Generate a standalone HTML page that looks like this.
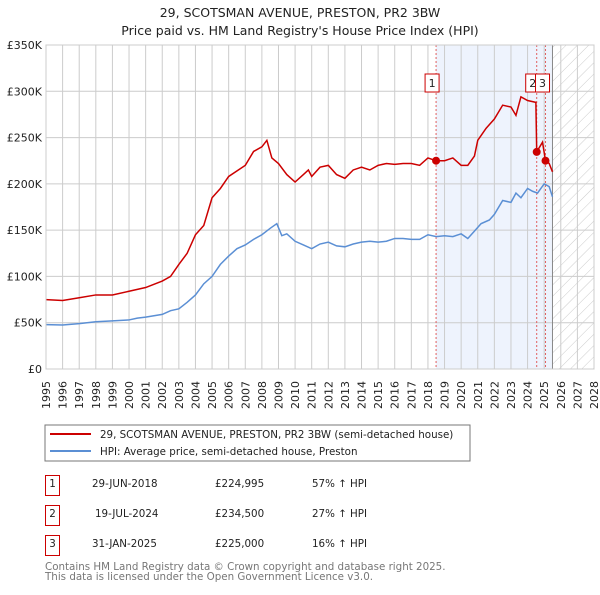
<!DOCTYPE html>
<html><head><meta charset="utf-8"><style>
body{margin:0;background:#fff;font-family:"Liberation Sans","DejaVu Sans",sans-serif;}
svg text{font-family:"DejaVu Sans","Liberation Sans",sans-serif;}
</style></head><body>
<svg id="chart" width="600" height="590" xmlns="http://www.w3.org/2000/svg">
<defs><pattern id="hatch" width="8" height="8" patternUnits="userSpaceOnUse" patternTransform="rotate(45)"><line x1="0" y1="0" x2="0" y2="8" stroke="#ccc" stroke-width="1"/></pattern></defs>
<text x="300" y="17" text-anchor="middle" font-size="12.5" fill="#222">29, SCOTSMAN AVENUE, PRESTON, PR2 3BW</text>
<text x="300" y="35" text-anchor="middle" font-size="12.5" fill="#222">Price paid vs. HM Land Registry's House Price Index (HPI)</text>
<g id="plot"></g>
<g>
<rect x="45" y="425" width="425" height="36" fill="#fff" stroke="#777"/>
<line x1="50" y1="434" x2="91" y2="434" stroke="#cc0000" stroke-width="2"/>
<text x="100" y="438" font-size="10.3" fill="#222">29, SCOTSMAN AVENUE, PRESTON, PR2 3BW (semi-detached house)</text>
<line x1="50" y1="451" x2="91" y2="451" stroke="#5b8fd4" stroke-width="2"/>
<text x="100" y="455" font-size="10.3" fill="#222">HPI: Average price, semi-detached house, Preston</text>
</g>
<g font-size="10.3" fill="#222">
<rect x="45.5" y="475.5" width="14" height="20" fill="#fff" stroke="#cc0000"/><text x="52.5" y="487" text-anchor="middle">1</text>
<text x="92" y="487">29-JUN-2018</text><text x="215" y="487">£224,995</text><text x="312" y="487">57% ↑ HPI</text>
<rect x="45.5" y="505.5" width="14" height="20" fill="#fff" stroke="#cc0000"/><text x="52.5" y="517" text-anchor="middle">2</text>
<text x="95" y="517">19-JUL-2024</text><text x="215" y="517">£234,500</text><text x="312" y="517">27% ↑ HPI</text>
<rect x="45.5" y="535.5" width="14" height="20" fill="#fff" stroke="#cc0000"/><text x="52.5" y="547" text-anchor="middle">3</text>
<text x="92" y="547">31-JAN-2025</text><text x="215" y="547">£225,000</text><text x="312" y="547">16% ↑ HPI</text>
</g>
<text x="45" y="570" font-size="10.3" fill="#777">Contains HM Land Registry data © Crown copyright and database right 2025.</text>
<text x="45" y="580" font-size="10.3" fill="#777">This data is licensed under the Open Government Licence v3.0.</text>
</svg>
<script>
const yTicks=[0,50,100,150,200,250,300,350];
const yTickLabels=["£0","£50K","£100K","£150K","£200K","£250K","£300K","£350K"];
const years=[1995,1996,1997,1998,1999,2000,2001,2002,2003,2004,2005,2006,2007,2008,2009,2010,2011,2012,2013,2014,2015,2016,2017,2018,2019,2020,2021,2022,2023,2024,2025,2026,2027,2028];
const hpiT=[1995,1996,1997,1998,1999,2000,2000.5,2001,2002,2002.5,2003,2003.5,2004,2004.5,2005,2005.5,2006,2006.5,2007,2007.5,2008,2008.5,2008.9,2009.2,2009.5,2010,2010.5,2011,2011.5,2012,2012.5,2013,2013.5,2014,2014.5,2015,2015.5,2016,2016.5,2017,2017.5,2018,2018.5,2019,2019.5,2020,2020.4,2020.8,2021.2,2021.7,2022,2022.5,2023,2023.3,2023.6,2024,2024.3,2024.6,2025,2025.3,2025.5];
const hpiV=[48,47.5,49,51,52,53,55,56,59,63,65,72,80,92,100,113,122,130,134,140,145,152,157,144,146,138,134,130,135,137,133,132,135,137,138,137,138,141,141,140,140,145,143,144,143,146,141,149,157,161,167,182,180,190,185,195,192,190,200,197,186];
const priceT=[1995,1996,1997,1998,1999,2000,2001,2002,2002.5,2003,2003.5,2004,2004.5,2005,2005.5,2006,2007,2007.5,2008,2008.3,2008.6,2009,2009.5,2010,2010.5,2010.8,2011,2011.5,2012,2012.5,2013,2013.5,2014,2014.5,2015,2015.5,2016,2016.5,2017,2017.5,2018,2018.49,2019,2019.5,2020,2020.4,2020.8,2021,2021.5,2022,2022.5,2023,2023.3,2023.6,2024,2024.5,2024.55,2024.9,2025.08,2025.3,2025.5];
const priceV=[75,74,77,80,80,84,88,95,100,113,125,145,155,185,195,208,220,235,240,247,228,222,210,202,210,215,208,218,220,210,206,215,218,215,220,222,221,222,222,220,228,225,225,228,220,220,230,247,260,270,285,283,274,294,290,288,234.5,245,225,222,213];
const saleT=[2018.49,2024.55,2025.08];
const saleV=[224.995,234.5,225];
const saleLabels=["1","2","3"];
const X0=46,X1=594,Y0=369,Y1=45;
const xs=t=>X0+(t-1995)/(2028-1995)*(X1-X0);
const ys=v=>Y0-v/350*(Y0-Y1);
const g=document.getElementById('plot');
const NS='http://www.w3.org/2000/svg';
function mk(tag,attrs){const e=document.createElementNS(NS,tag);for(const k in attrs)e.setAttribute(k,attrs[k]);g.appendChild(e);return e;}
let r=mk('rect',{x:xs(saleT[0]),y:Y1,width:xs(2025.5)-xs(saleT[0]),height:Y0-Y1,fill:'#eef3fd'});


r=mk('rect',{x:xs(2025.5),y:Y1,width:X1-xs(2025.5),height:Y0-Y1,fill:'url(#hatch)'});


years.forEach(y=>{const x=xs(y);
const l=mk('line',{x1:x,y1:Y1,x2:x,y2:Y0,stroke:'#ccc','stroke-width':1});


const t=mk('text',{x:0,y:0,'font-size':11,fill:'#222','text-anchor':'end',transform:'translate('+(x+4)+',381) rotate(-90)'});t.textContent=y;

});
yTicks.forEach((v,i)=>{const y=ys(v);
const l=mk('line',{x1:X0,y1:y,x2:X1,y2:y,stroke:'#ccc','stroke-width':1});


const t=mk('text',{x:X0-4,y:y+4,'font-size':11,fill:'#222','text-anchor':'end'});t.textContent=yTickLabels[i];

});
const hl=mk('line',{x1:xs(2025.5),y1:Y1,x2:xs(2025.5),y2:Y0,stroke:'#888','stroke-width':1});


saleT.forEach(t=>{const l=mk('line',{x1:xs(t),y1:Y1,x2:xs(t),y2:Y0,stroke:'#e06060','stroke-width':1,'stroke-dasharray':'2,2'});

});
const p1=mk('polyline',{points:hpiT.map((t,i)=>xs(t)+','+ys(hpiV[i])).join(' '),fill:'none',stroke:'#5b8fd4','stroke-width':1.5});


const p2=mk('polyline',{points:priceT.map((t,i)=>xs(t)+','+ys(priceV[i])).join(' '),fill:'none',stroke:'#cc0000','stroke-width':1.5});


saleT.forEach((t,i)=>{const c=mk('circle',{cx:xs(t),cy:ys(saleV[i]),r:4,fill:'#cc0000'});

});
const lx=[xs(saleT[0])-4,xs(saleT[1])-4,xs(saleT[2])-3];
saleT.forEach((t,i)=>{const b=mk('rect',{x:lx[i]-7,y:74,width:14,height:18,fill:'#fff',stroke:'#cc0000'});


const tx=mk('text',{x:lx[i],y:87,'font-size':11,fill:'#222','text-anchor':'middle'});tx.textContent=saleLabels[i];

});
const ax=mk('rect',{x:X0,y:Y1,width:X1-X0,height:Y0-Y1,fill:'none',stroke:'#ccc'});


</script>
</body></html>
